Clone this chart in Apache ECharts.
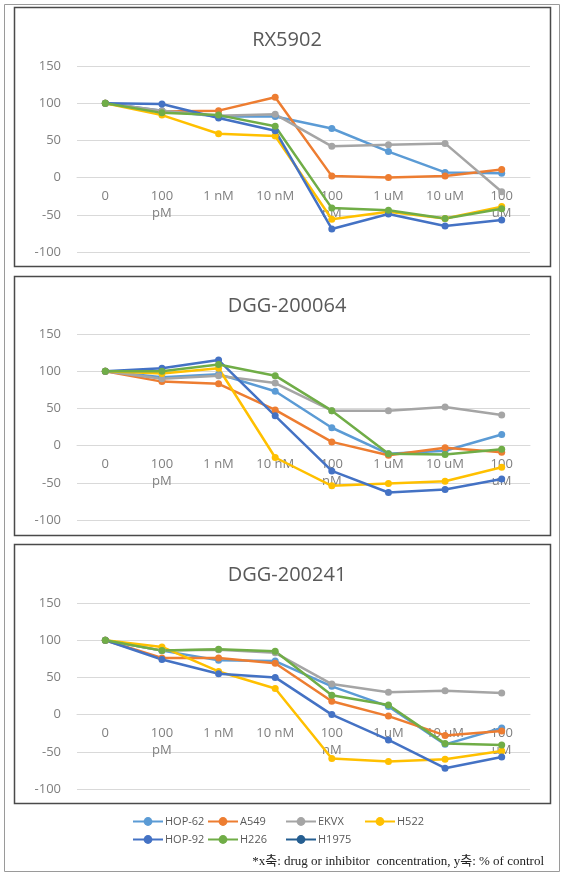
<!DOCTYPE html>
<html>
<head>
<meta charset="utf-8">
<script src="https://cdn.jsdelivr.net/npm/echarts@6/dist/echarts.min.js"></script>
<style>
html,body{margin:0;padding:0;background:#fff;}
#chart{width:569px;height:876px;}
</style>
</head>
<body>
<div id="chart"></div>
<script>
// ---- data ----
var categories = ['0', '100\npM', '1 nM', '10 nM', '100\nnM', '1 uM', '10 uM', '100\nuM'];
var seriesNames = ['HOP-62', 'A549', 'EKVX', 'H522', 'HOP-92', 'H226', 'H1975'];
var seriesColors = ['#5B9BD5', '#ED7D31', '#A5A5A5', '#FFC000', '#4472C4', '#70AD47', '#255E91'];
var panelTitles = ['RX5902', 'DGG-200064', 'DGG-200241'];
var yMin = -100, yMax = 150, yStep = 50;

// RX5902
var rx_HOP62 = [100, 90, 82, 82, 66, 35, 7, 6];
var rx_A549  = [100, 89, 90, 108, 2, 0, 2, 11];
var rx_EKVX  = [100, 90, 83, 85, 42, 44, 46, -19];
var rx_H522  = [100, 84, 59, 56, -56, -46, -55, -39];
var rx_HOP92 = [100, 99, 80, 63, -69, -49, -65, -57];
var rx_H226  = [100, 87, 84, 69, -41, -44, -55, -42];
var rx_H1975 = [null, null, null, null, null, null, null, null];

// DGG-200064
var d64_HOP62 = [100, 92, 96, 73, 24, -11, -7, 15];
var d64_A549  = [100, 86, 83, 48, 5, -13, -3, -9];
var d64_EKVX  = [100, 90, 94, 84, 47, 47, 52, 41];
var d64_H522  = [100, 97, 104, -16, -54, -51, -48, -29];
var d64_HOP92 = [100, 104, 115, 40, -34, -63, -59, -45];
var d64_H226  = [100, 100, 109, 94, 47, -11, -12, -5];
var d64_H1975 = [null, null, null, null, null, null, null, null];

// DGG-200241
var d241_HOP62 = [100, 86, 73, 72, 38, 11, -40, -18];
var d241_A549  = [100, 76, 76, 69, 18, -2, -28, -22];
var d241_EKVX  = [100, 86, 87, 83, 41, 30, 32, 29];
var d241_H522  = [100, 91, 58, 35, -59, -63, -60, -49];
var d241_HOP92 = [100, 74, 55, 50, 0, -34, -72, -57];
var d241_H226  = [100, 86, 88, 85, 26, 13, -39, -41];
var d241_H1975 = [null, null, null, null, null, null, null, null];

var footnote = '*x축: drug or inhibitor  concentration, y축: % of control';

var panelData = [
  [rx_HOP62, rx_A549, rx_EKVX, rx_H522, rx_HOP92, rx_H226, rx_H1975],
  [d64_HOP62, d64_A549, d64_EKVX, d64_H522, d64_HOP92, d64_H226, d64_H1975],
  [d241_HOP62, d241_A549, d241_EKVX, d241_H522, d241_HOP92, d241_H226, d241_H1975]
];

// ---- layout ----
var panelTops = [7, 276, 544];
var panelH = 259;
var gridTops = [66, 334, 603];
var gridH = 186;
var titleY = [25, 291, 560];
var font = '"Open Sans", "Noto Sans", sans-serif';
// x axis sits on the zero line: distance from grid bottom to value 0
var zeroOffset = -gridH * (0 - yMin) / (yMax - yMin);

var chart = echarts.init(document.getElementById('chart'), null, {renderer: 'canvas'});

var grids = [], xAxes = [], yAxes = [], titles = [], series = [], graphics = [];

graphics.push({type: 'rect', shape: {x: 4.5, y: 4.5, width: 555, height: 867},
  style: {fill: 'none', stroke: '#9a9a9a', lineWidth: 1}, z: 0});

for (var p = 0; p < 3; p++) {
  graphics.push({type: 'rect', shape: {x: 14.5, y: panelTops[p] + 0.5, width: 536, height: panelH},
    style: {fill: 'none', stroke: '#4a4a4a', lineWidth: 1.5}, z: 0});
  grids.push({left: 77, width: 453, top: gridTops[p], height: gridH});
  titles.push({text: panelTitles[p], left: 282, top: titleY[p], textAlign: 'center',
    textStyle: {fontFamily: font, fontSize: 20, fontWeight: 'normal', color: '#595959'}});
  xAxes.push({type: 'category', gridIndex: p, data: categories, boundaryGap: true,
    position: 'bottom', offset: zeroOffset,
    axisLine: {onZero: false, lineStyle: {color: '#d9d9d9', width: 1}},
    axisTick: {show: false},
    axisLabel: {interval: 0, color: '#7f7f7f', fontFamily: font, fontSize: 13, margin: 10, lineHeight: 17}});
  yAxes.push({type: 'value', gridIndex: p, min: yMin, max: yMax, interval: yStep,
    axisLine: {show: false}, axisTick: {show: false},
    splitLine: {lineStyle: {color: '#d9d9d9', width: 1}},
    axisLabel: {color: '#7f7f7f', fontFamily: font, fontSize: 13, margin: 16}});
  for (var s = 0; s < seriesNames.length; s++) {
    series.push({
      name: seriesNames[s], type: 'line', xAxisIndex: p, yAxisIndex: p,
      data: panelData[p][s], color: seriesColors[s],
      symbol: 'circle', symbolSize: 7, showSymbol: true,
      lineStyle: {width: 2.5, color: seriesColors[s]},
      itemStyle: {color: seriesColors[s]},
      animation: false
    });
  }
}

graphics.push({type: 'text', right: 569 - 544, top: 855,
  style: {text: footnote, fill: '#222', font: '13px "Liberation Serif", "Noto Sans CJK KR", serif', textAlign: 'right'}});

function legendCol(names, left) {
  return {data: names, left: left, top: 816, orient: 'vertical', itemGap: 7,
    itemWidth: 30, itemHeight: 11,
    textStyle: {fontFamily: font, fontSize: 11, color: '#595959', padding: [0, 0, 0, -3]},
    selectedMode: false, padding: 0};
}

var option = {
  backgroundColor: '#ffffff',
  animation: false,
  title: titles,
  grid: grids,
  xAxis: xAxes,
  yAxis: yAxes,
  legend: [
    legendCol(['HOP-62', 'HOP-92'], 132),
    legendCol(['A549', 'H226'], 207),
    legendCol(['EKVX', 'H1975'], 285),
    legendCol(['H522'], 364)
  ],
  graphic: graphics,
  series: series
};
chart.setOption(option);
</script>
</body>
</html>
